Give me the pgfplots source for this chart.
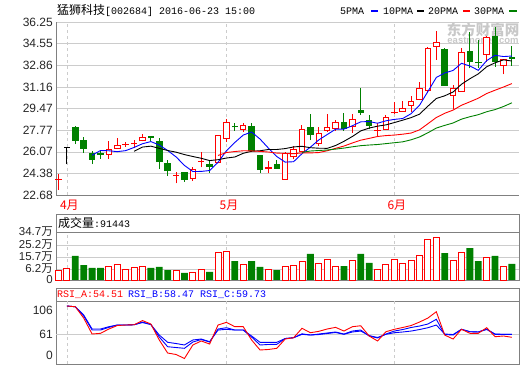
\documentclass[border=0pt]{standalone}
\usepackage{pgfplots}
\pgfplotsset{compat=1.18}
\usepackage{pgfplotstable}
\usepackage{fontspec}
\setmainfont{Liberation Sans}
\newfontfamily\cjk{Noto Sans CJK SC}
\newfontfamily\mono{Liberation Mono}
\definecolor{gridgray}{RGB}{204,204,204}
\definecolor{axisgray}{RGB}{128,128,128}
\definecolor{cgreen}{RGB}{0,128,0}
\definecolor{cred}{RGB}{255,0,0}
\definecolor{cblue}{RGB}{0,0,255}
\definecolor{wmgray}{RGB}{200,200,200}

% candles: index, open, high, low, close
\pgfplotstableread{
i o h l c
0 23.89 24.33 23.07 23.93
6 25.82 26.92 25.53 26.27
7 26.27 27.18 26.27 26.60
8 26.62 26.86 26.47 26.68
9 26.66 26.99 26.34 26.70
10 26.89 27.47 26.89 27.21
14 24.18 24.51 23.60 24.22
16 23.95 24.85 23.80 24.74
17 25.27 26.03 24.85 25.31
19 25.17 27.39 25.17 27.39
20 27.07 28.62 26.86 28.43
22 27.78 28.35 27.65 28.17
25 24.70 25.37 24.38 24.85
27 23.86 26.07 23.86 25.95
28 25.64 26.52 25.48 26.27
29 26.08 28.17 26.08 27.83
31 26.66 27.99 26.52 27.57
32 27.72 29.01 27.65 28.04
33 27.88 28.56 27.72 28.38
35 28.04 29.04 27.57 28.67
38 27.72 28.30 27.21 27.76
39 27.78 28.96 27.78 28.82
40 29.09 30.00 29.00 29.21
41 29.21 30.08 29.21 29.48
42 29.66 30.45 29.22 30.05
43 30.13 31.54 30.13 31.05
44 30.84 34.30 30.66 34.19
45 34.31 35.54 33.27 34.71
47 30.47 31.31 29.40 31.05
48 30.78 34.19 30.78 33.87
51 33.66 35.15 33.14 35.05
53 32.82 33.35 32.15 33.35
}\upc
\pgfplotstableread{
i o h l c
2 28.04 28.10 26.68 26.94
3 27.00 27.21 26.00 26.31
4 25.95 26.16 25.11 25.43
5 26.00 26.10 25.53 25.80
11 27.31 27.31 26.94 27.13
12 26.92 27.18 24.70 25.25
13 25.21 25.43 24.17 24.56
15 24.51 24.51 23.70 23.86
18 25.11 25.40 24.43 24.90
21 28.09 28.35 27.73 27.99
23 28.09 28.30 26.05 26.13
24 25.82 25.82 24.43 24.64
26 25.11 25.43 24.72 24.72
30 27.99 29.03 26.99 27.39
34 28.41 29.09 27.72 27.88
36 29.35 31.10 28.96 29.14
37 28.56 28.96 27.83 28.12
46 34.11 34.20 31.25 31.25
49 33.98 35.49 32.62 33.14
50 33.06 34.84 32.67 33.00
52 35.18 35.88 32.74 33.14
54 33.48 34.37 32.82 33.35
}\dnc
\pgfplotstableread{
i o h l c
1 26.35 26.39 25.09 26.35
}\flc

% moving averages
\pgfplotstableread{
i v
4 25.80
5 26.17
6 26.15
7 26.08
8 26.16
9 26.41
10 26.70
11 26.87
12 26.60
13 26.17
14 25.67
15 25.00
16 24.52
17 24.53
18 24.60
19 25.24
20 26.15
21 26.80
22 27.38
23 27.62
24 27.07
25 26.36
26 25.70
27 25.26
28 25.29
29 25.92
30 26.43
31 27.00
32 27.42
33 27.84
34 27.85
35 28.11
36 28.42
37 28.44
38 28.31
39 28.50
40 28.61
41 28.68
42 29.06
43 29.72
44 30.80
45 31.90
46 32.25
47 32.45
48 33.01
49 32.80
50 32.46
51 33.22
52 33.64
53 33.54
54 33.58
}\mafive
\pgfplotstableread{
i v
9 26.11
10 26.44
11 26.51
12 26.34
13 26.17
14 26.04
15 25.85
16 25.70
17 25.56
18 25.38
19 25.45
20 25.58
21 25.66
22 25.95
23 26.11
24 26.15
25 26.25
26 26.25
27 26.32
28 26.45
29 26.50
30 26.39
31 26.35
32 26.34
33 26.56
34 26.89
35 27.27
36 27.71
37 27.93
38 28.08
39 28.18
40 28.36
41 28.55
42 28.75
43 29.02
44 29.65
45 30.25
46 30.46
47 30.76
48 31.37
49 31.80
50 32.18
51 32.74
52 33.05
53 33.28
54 33.19
}\maten
\pgfplotstableread{
i v
19 25.78
20 26.01
21 26.09
22 26.15
23 26.14
24 26.10
25 26.05
26 25.97
27 25.94
28 25.92
29 25.98
30 25.98
31 26.01
32 26.15
33 26.34
34 26.52
35 26.76
36 26.98
37 27.12
38 27.27
39 27.34
40 27.38
41 27.45
42 27.54
43 27.79
44 28.27
45 28.76
46 29.09
47 29.34
48 29.72
49 29.99
50 30.27
51 30.64
52 30.90
53 31.15
54 31.42
}\matwenty
\pgfplotstableread{
i v
29 26.02
30 26.13
31 26.17
32 26.21
33 26.28
34 26.36
35 26.46
36 26.55
37 26.60
38 26.64
39 26.71
40 26.78
41 26.85
42 27.01
43 27.23
44 27.56
45 27.93
46 28.14
47 28.33
48 28.63
49 28.82
50 28.98
51 29.21
52 29.38
53 29.62
54 29.91
}\mathirty

% volume
\pgfplotstableread{
i v
0 7.2
1 8.4
6 9.9
7 11.3
8 7.7
9 9.2
10 9.9
14 7.0
16 5.8
17 7.7
19 20.0
20 20.7
22 11.3
25 7.7
27 9.9
28 10.6
29 13.5
31 12.0
32 14.9
33 9.9
35 14.2
38 7.7
39 11.3
40 14.9
41 12.0
42 14.2
43 17.8
44 29.4
45 30.9
47 14.2
48 20.0
51 16.4
53 9.9
}\volup
\pgfplotstableread{
i v
2 17.4
3 10.8
4 8.7
5 8.7
11 8.7
12 9.4
13 7.2
15 5.1
18 5.8
21 13.7
23 13.7
24 9.4
26 7.2
30 18.8
34 10.1
36 18.8
37 12.3
46 19.5
49 23.1
50 13.7
52 17.4
54 11.6
}\voldn

% RSI
\pgfplotstableread{
i a b c
1 100 100 100
2 99 99 99
3 83.4 86.2 87.6
4 61.4 66.9 68.3
5 62.4 66.9 68.3
6 68.3 70.6 71.5
7 73.1 73.8 73.8
8 73.8 73.8 73.8
9 74.2 74.2 74.2
10 80.0 77.9 77.2
11 75.2 74.5 74.5
12 53.2 57.3 60.0
13 35.2 43.9 50.0
14 33.2 42.8 48.3
15 27.7 41.7 46.3
16 46.3 50.4 53.2
17 51.8 53.8 54.5
18 47.6 50.4 50.8
19 73.8 68.3 66.9
20 77.5 70.1 67.9
21 71.5 66.9 66.9
22 71.5 66.9 66.9
23 53.2 57.3 58.7
24 39.4 46.3 50.0
25 40.1 47.0 50.0
26 41.7 47.2 50.0
27 54.5 55.2 55.2
28 56.3 56.3 56.3
29 69.3 61.7 61.0
30 63.2 60.0 60.0
31 65.1 61.4 60.7
32 68.3 62.8 62.1
33 70.6 64.2 63.5
34 65.5 61.4 61.0
35 71.5 65.5 64.2
36 72.8 66.9 65.5
37 58.7 58.7 59.3
38 51.8 55.9 56.6
39 64.6 61.4 61.0
40 67.9 65.5 63.2
41 70.4 67.6 64.2
42 73.1 70.4 65.5
43 77.9 72.4 67.6
44 83.4 75.2 70.1
45 92.1 81.7 73.8
46 60.0 60.7 61.4
47 54.5 60.0 60.7
48 67.9 67.9 67.9
49 62.4 64.6 64.6
50 62.4 64.2 64.2
51 70.1 68.3 67.6
52 57.7 61.0 61.4
53 58.7 61.0 61.0
54 56.9 61.0 61.0
}\rsi

\pgfplotsset{
  panel/.style={
    scale only axis, anchor=south west, width=463bp,
    xmin=-0.3, xmax=54.85,
    axis line style={draw=axisgray},
    xtick=\empty, major tick length=0pt,
    extra x ticks={1,20,40},
    extra x tick style={grid=major, major tick length=0pt,
      major grid style={draw=gridgray, dash pattern=on 3bp off 3bp}},
    major grid style={draw=gridgray},
    yticklabel style={font=\fontsize{12bp}{14bp}\selectfont, text=black!85,
      anchor=east, inner sep=0pt, xshift=-3bp},
    clip=false,
  },
  wick/.style={draw=none, mark=none, forget plot,
    error bars/.cd, y dir=plus, y explicit, error mark=none,
    error bar style={draw=#1, line width=1bp}},
  body/.style 2 args={draw=none, mark=none, forget plot,
    error bars/.cd, y dir=plus, y explicit, error mark=none,
    error bar style={draw=#1, line width=#2}},
}

\begin{document}
\begin{tikzpicture}
\useasboundingbox (0,0) rectangle (520bp,365bp);
% watermark
\node[text=wmgray, inner sep=0pt, font=\cjk\bfseries\fontsize{14.5bp}{16bp}\selectfont] at (483bp,335bp) {东方财富网};
\node[text=wmgray, inner sep=0pt, font=\bfseries\fontsize{9.5bp}{11bp}\selectfont] at (483bp,323.5bp) {eastmoney.com};

% ---------- main price panel ----------
\begin{axis}[panel, name=main, at={(56bp,170bp)}, height=173bp,
  ymin=22.68, ymax=36.25,
  axis x line*=bottom, axis y line*=left,
  axis line style={draw=axisgray, -},
  ytick={22.68,24.38,26.07,27.77,29.47,31.16,32.86,34.55,36.25},
  yticklabels={22.68,24.38,26.07,27.77,29.47,31.16,32.86,34.55,36.25},
  ymajorgrids,
  extra x tick labels={4月,5月,6月},
  extra x tick style={xticklabel style={text=cred, font=\cjk\fontsize{12bp}{14bp}\selectfont,
      anchor=north, inner sep=0pt, yshift=-5bp, xshift=2.5bp}},
]
% wicks
\addplot[wick=cred] table[x=i, y=l, y error expr=\thisrow{h}-\thisrow{l}] {\upc};
\addplot[wick=cgreen] table[x=i, y=l, y error expr=\thisrow{h}-\thisrow{l}] {\dnc};
\addplot[wick=black] table[x=i, y=l, y error expr=\thisrow{h}-\thisrow{l}] {\flc};
% bodies
\addplot[body={cred}{6.5bp}] table[x=i, y=o, y error expr={max(\thisrow{c}-\thisrow{o},0.08)}] {\upc};
\addplot[body={white}{4.5bp}] table[x=i, y expr=\thisrow{o}+0.08, y error expr={max(\thisrow{c}-\thisrow{o}-0.16,0)}] {\upc};
\addplot[body={cgreen}{6.5bp}] table[x=i, y=c, y error expr={max(\thisrow{o}-\thisrow{c},0.08)}] {\dnc};
\addplot[body={black}{6.5bp}] table[x=i, y=o, y error expr=0.08] {\flc};
% moving averages
\addplot[cblue, line width=0.9bp, mark=none] table[x=i, y=v] {\mafive};
\addplot[black, line width=0.9bp, mark=none] table[x=i, y=v] {\maten};
\addplot[cred, line width=0.9bp, mark=none] table[x=i, y=v] {\matwenty};
\addplot[cgreen, line width=0.9bp, mark=none] table[x=i, y=v] {\mathirty};
\end{axis}

% title and legend
\node[anchor=west, inner sep=0pt] at (57bp,355bp)
  {{\cjk\fontsize{12bp}{14bp}\selectfont 猛狮科技}{\mono\fontsize{10bp}{12bp}\selectfont [002684] 2016-06-23 15:00}};
\begin{scope}[font=\mono\fontsize{10bp}{12bp}\selectfont]
\node[anchor=west, inner sep=0pt] at (340bp,354bp) {5PMA};
\node[anchor=west, inner sep=0pt] at (383bp,354bp) {10PMA};
\node[anchor=west, inner sep=0pt] at (428bp,354bp) {20PMA};
\node[anchor=west, inner sep=0pt] at (474bp,354bp) {30PMA};
\end{scope}
\draw[cblue, line width=2bp] (371bp,354bp) -- (378bp,354bp);
\draw[black, line width=2bp] (417bp,354bp) -- (424bp,354bp);
\draw[cred, line width=2bp] (463bp,354bp) -- (470bp,354bp);
\draw[cgreen, line width=2bp] (509bp,354bp) -- (517bp,354bp);

% ---------- volume panel ----------
\begin{axis}[panel, name=vol, at={(56bp,85bp)}, height=48bp,
  ymin=0, ymax=34.7,
  extra x tick labels={},
  ytick={0,7.95,16.6,25.3,34.7},
  yticklabels={0,{6.2\cjk 万},{15.7\cjk 万},{25.2\cjk 万},{34.7\cjk 万}},
  yticklabel style={font=\fontsize{11.5bp}{13bp}\selectfont},
  ymajorgrids,
]
\addplot[ybar, bar width=6bp, bar shift=0pt, draw=cred, fill=white, line width=0.9bp] table[x=i, y=v] {\volup};
\addplot[ybar, bar width=6.8bp, bar shift=0pt, draw=none, fill=cgreen] table[x=i, y=v] {\voldn};
\end{axis}
\draw[axisgray] (vol.north west) -- ++(0,18bp) -| (vol.north east);
\node[anchor=west, inner sep=0pt] at (58bp,142bp)
  {{\cjk\fontsize{12bp}{14bp}\selectfont 成交量}{\mono\fontsize{10bp}{12bp}\selectfont :91443}};

% ---------- RSI panel ----------
\begin{axis}[panel, name=rsi, at={(56bp,1bp)}, height=63bp,
  ymin=20.1, ymax=106.9,
  extra x tick labels={},
  ytick={31.5,61,94.5},
  yticklabels={0,61,106},
  extra y ticks={61}, extra y tick labels={},
  extra y tick style={grid=major, major grid style={draw=gridgray, solid}},
]
\addplot[cblue, line width=0.9bp, mark=none] table[x=i, y=c] {\rsi};
\addplot[cblue, line width=0.9bp, mark=none] table[x=i, y=b] {\rsi};
\addplot[cred, line width=0.9bp, mark=none] table[x=i, y=a] {\rsi};
\end{axis}
\draw[axisgray] (rsi.north west) -- ++(0,13bp) -| (rsi.north east);
\begin{scope}[font=\mono\fontsize{10bp}{12bp}\selectfont]
\node[anchor=west, inner sep=0pt, text=cred] at (57bp,70.5bp) {RSI\_A:54.51};
\node[anchor=west, inner sep=0pt, text=cblue] at (128bp,70.5bp) {RSI\_B:58.47};
\node[anchor=west, inner sep=0pt, text=cblue] at (200bp,70.5bp) {RSI\_C:59.73};
\end{scope}
\end{tikzpicture}
\end{document}
